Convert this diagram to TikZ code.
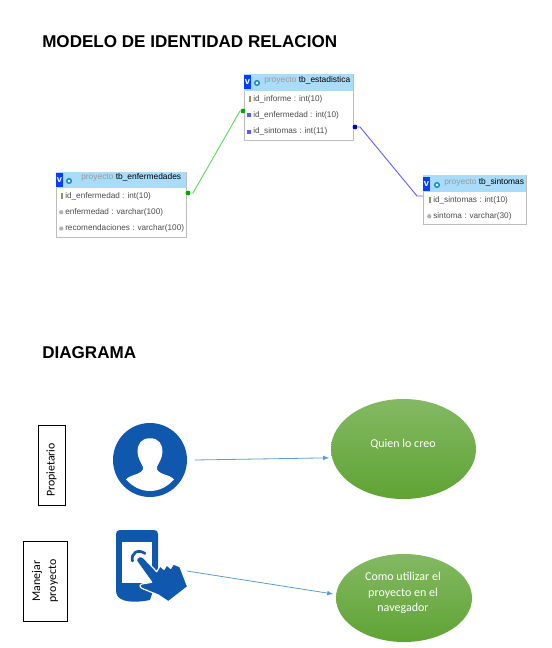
\documentclass[tikz,border=0pt]{standalone}
\usepackage{fontspec}
\setmainfont{Liberation Sans}
\newfontfamily\calibri{Carlito}
\usepackage{tikz}
\usetikzlibrary{shapes}
\usetikzlibrary{positioning,backgrounds}
\definecolor{azul}{HTML}{1058AE}
\definecolor{flecha}{HTML}{5B9BD5}
\definecolor{cabecera}{HTML}{A8DCF8}
\definecolor{marco}{HTML}{BDBDBD}
\definecolor{verdeA}{HTML}{84B963}
\definecolor{verdeB}{HTML}{5FA334}
\definecolor{verdeL}{HTML}{62D862}
\tikzset{
    titulo/.style={anchor=west,inner sep=0pt,font=\fontsize{12.8}{14}\selectfont\bfseries},
    tabla/.style={rectangle,draw=marco,line width=0.9pt,fill=white,anchor=north west,inner sep=0pt},
    cabeza/.style={rectangle,fill=cabecera,anchor=north west,inner sep=0pt},
    nombre/.style={anchor=west,inner sep=0pt,font=\fontsize{6.3}{8}\selectfont,text=black},
    fila/.style={anchor=west,inner sep=0pt,text height=5pt,text depth=1.5pt,font=\fontsize{6.15}{8}\selectfont,text=black!70},
    llave/.style={rectangle,fill=black!45!yellow!70!gray,minimum width=2pt,minimum height=4pt,inner sep=0pt},
    indice/.style={rectangle,fill=blue!65,minimum size=3pt,inner sep=0pt},
    campo/.style={circle,fill=black!30,minimum size=3.2pt,inner sep=0pt},
    vbox/.style={rectangle,fill=blue!75!cyan,text=white,inner sep=0pt,minimum width=5pt,font=\fontsize{7}{8}\selectfont\bfseries},
    engrane/.style={circle,draw=cyan!70!blue,line width=1.1pt,fill=white,minimum size=3.4pt,inner sep=0pt},
    etiqueta/.style={rectangle,draw=black,line width=0.6pt,rotate=90,align=center,inner sep=0pt,minimum width=60pt,font=\calibri\fontsize{8.9}{12}\selectfont},
    burbuja/.style={ellipse,top color=verdeA,bottom color=verdeB,inner sep=0pt},
    rotulo/.style={inner sep=0pt,text=white,align=center,font=\calibri\fontsize{9}{11.5}\selectfont},
    union/.style={circle,minimum size=3.6pt,inner sep=0pt},
}
\begin{document}
\begin{tikzpicture}[>=latex,x=0.75pt,y=-0.75pt]
\useasboundingbox (0,0) rectangle (551,648);

\node[titulo](tit1) at (42,42) {MODELO DE IDENTIDAD RELACION};
\node[titulo](tit2) at (42,353) {DIAGRAMA};

% tablas
\node[tabla,minimum width=97.5pt,minimum height=48.75pt](enf) at (56,172) {};
\node[cabeza,minimum width=97.5pt,minimum height=12pt](enfC) at (56,172) {};
\node[vbox,minimum height=10.5pt](enfV) at (59.5,180) {v};
\node[engrane](enfG) at (69,181) {};
\node[nombre](enfT) at (81,177) {\textcolor{black!40}{proyecto} tb\_enfermedades};
\node[fila](enf1) at (65,196) {id\_enfermedad : int(10)};
\node[fila](enf2) [below =8.75pt of enf1.south west,anchor=west] {enfermedad : varchar(100)};
\node[fila](enf3) [below =8.75pt of enf2.south west,anchor=west] {recomendaciones : varchar(100)};
\node[llave](enfA) [left =1pt of enf1] {};
\node[campo](enfB) [left =1pt of enf2] {};
\node[campo](enfD) [left =1pt of enf3] {};

\node[tabla,minimum width=81.75pt,minimum height=49.5pt](est) at (244,74) {};
\node[cabeza,minimum width=81.75pt,minimum height=12.75pt](estC) at (244,74) {};
\node[vbox,minimum height=10.5pt](estV) at (247.5,82) {v};
\node[engrane](estG) at (257,83) {};
\node[nombre](estT) at (264,80) {\textcolor{black!40}{proyecto} tb\_estadistica};
\node[fila](est1) at (253,99) {id\_informe : int(10)};
\node[fila](est2) [below =8.75pt of est1.south west,anchor=west] {id\_enfermedad : int(10)};
\node[fila](est3) [below =8.75pt of est2.south west,anchor=west] {id\_sintomas : int(11)};
\node[llave](estA) [left =1pt of est1] {};
\node[indice](estB) [left =1pt of est2] {};
\node[indice](estD) [left =1pt of est3] {};

\node[tabla,minimum width=77.25pt,minimum height=36.75pt](sin) at (423,175) {};
\node[cabeza,minimum width=77.25pt,minimum height=12.75pt](sinC) at (423,175) {};
\node[vbox,minimum height=10.5pt](sinV) at (426.5,184) {v};
\node[engrane](sinG) at (437,185) {};
\node[nombre](sinT) at (444,182) {\textcolor{black!40}{proyecto} tb\_sintomas};
\node[fila](sin1) at (433,200) {id\_sintomas : int(10)};
\node[fila](sin2) [below =8.75pt of sin1.south west,anchor=west] {sintoma : varchar(30)};
\node[llave](sinA) [left =1pt of sin1] {};
\node[campo](sinB) [left =1pt of sin2] {};

% relaciones
\node[union,fill=green!65!black](u1) at (188,193) {};
\node[union,fill=green!65!black](u2) at (243,111) {};
\node[union,fill=blue!75!black](u3) at (355,127) {};
\coordinate (u4) at (423,196);
\draw[verdeL,line width=0.7pt] (u1) -- (193,193) -- (240,111) -- (u2);
\draw[blue!62,line width=0.7pt] (u3) -- (360,127) -- (417,196) -- (u4);

% diagrama
\node[etiqueta,minimum height=20.25pt](prop) at (51.5,465) {Propietario\hspace*{7.5pt}};
\node[etiqueta,minimum height=33pt](man) at (45,581) {Manejar\\proyecto};

\node[circle,fill=azul,minimum size=55.5pt,inner sep=0pt](persona) at (150,460) {};
\fill[white] (150,438.3) .. controls (141,438) and (137,445) .. (137.5,452)
  .. controls (138,459) and (141,462) .. (143,467)
  .. controls (143.5,471) and (141,472) .. (137,474)
  .. controls (132,475.5) and (128,477) .. (126,479.5)
  .. controls (133,487) and (141,491) .. (150,491)
  .. controls (159,491) and (167,487) .. (174,479.5)
  .. controls (172,477) and (168,475.5) .. (163,474)
  .. controls (159,472) and (156.5,471) .. (157,467)
  .. controls (159,462) and (162,459) .. (162.5,452)
  .. controls (163,445) and (159,438) .. (150,438.3) -- cycle;

\node[rectangle,minimum width=31.5pt,minimum height=54pt,inner sep=0pt](tel) at (137,566) {};
\fill[azul] (120,530) -- (154,530) .. controls (156.5,530) and (158,531.5) .. (158,534)
  -- (158,575) -- (150,600) .. controls (140,602) and (130,602.5) .. (123,600)
  .. controls (118,598) and (116,595) .. (116,590) -- (116,534)
  .. controls (116,531.5) and (117.5,530) .. (120,530) -- cycle;
\fill[white] (122,542) rectangle (152,583);
\draw[azul,line width=2pt,line cap=round] (132.5,561) .. controls (130.5,553) and (138,548.5) .. (145,553.5);
\filldraw[fill=azul,draw=white,line width=0.9pt,line join=round] (136.5,561) .. controls (136,556.5) and (141.5,555.5) .. (143.8,558)
  -- (156.7,571.7) -- (160,566) -- (164,569.3) -- (166.7,565) -- (170.7,568.3) -- (173.3,564)
  -- (180,566.7) -- (187.7,586.7) -- (168.3,601.7) -- (158.3,595) -- (141.7,588.3)
  .. controls (139,586) and (140,584.5) .. (141.7,584) -- (151.7,582.3) -- cycle;
\coordinate (mano) at (187,571);

\node[burbuja,minimum width=108.75pt,minimum height=75pt](quien) at (403.5,449) {};
\node[rotulo](quienT) at (403,444) {Quien lo creo};
\node[burbuja,minimum width=102pt,minimum height=66pt](como) at (404,598) {};
\node[rotulo](comoT) at (403,593) {Como utilizar el\\proyecto en el\\navegador};

\draw[flecha,->,line width=0.6pt,shorten >=2pt] ([xshift=5.5pt]persona.east) -- (quien.187);
\draw[flecha,->,line width=0.6pt,shorten >=2pt] (mano) -- (como.177);
\end{tikzpicture}
\end{document}
